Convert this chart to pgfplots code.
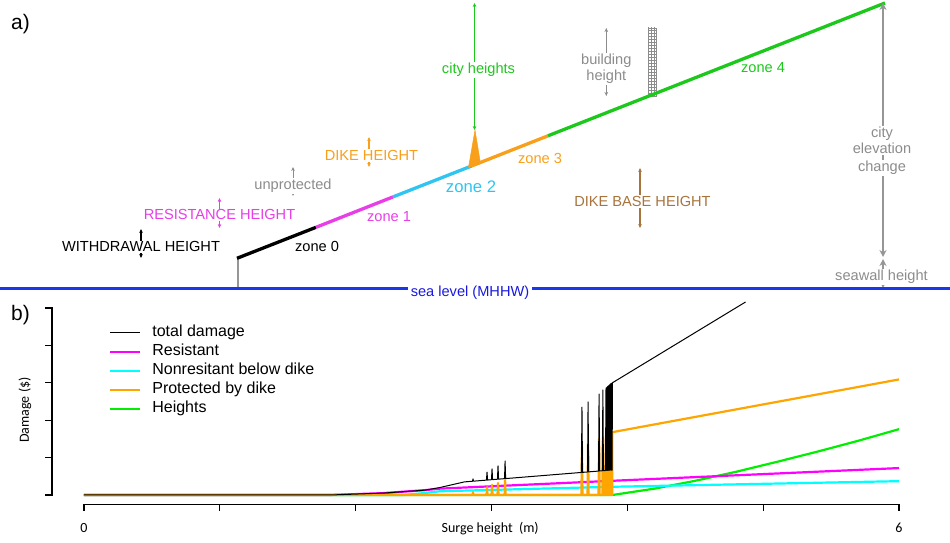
\documentclass[border=0pt]{standalone}
\usepackage{fontspec}
\setmainfont{Liberation Sans}
\newfontfamily\calibri{Carlito}
\usepackage{pgfplots}
\pgfplotsset{compat=1.18}
\usetikzlibrary{arrows.meta,patterns}

% colours of the cross-section
\definecolor{sealevel}{RGB}{25,55,235}
\definecolor{sealabel}{RGB}{25,25,225}
\definecolor{zmag}{RGB}{232,62,232}
\definecolor{zcyan}{RGB}{48,196,240}
\definecolor{zorange}{RGB}{248,160,28}
\definecolor{zgreen}{RGB}{28,200,28}
\definecolor{zgray}{RGB}{140,140,140}
\definecolor{wallgray}{RGB}{150,150,150}
\definecolor{zbrown}{RGB}{168,116,62}
% colours of the damage curves
\definecolor{dmag}{RGB}{255,0,255}
\definecolor{dcyan}{RGB}{0,255,255}
\definecolor{dorange}{RGB}{255,165,0}
\definecolor{dgreen}{RGB}{0,238,0}

\newcommand\lab{\fontsize{14.6}{16.5}\selectfont}
\newcommand\axfont{\calibri\fontsize{14}{16}\selectfont}

\begin{document}
\begin{tikzpicture}[
  lbl/.style={font=\lab, anchor=base, inner sep=0pt},
  wlbl/.style={font=\lab, anchor=base, fill=white, inner xsep=1.5pt, inner ysep=1pt},
  tip/.style={arrows={Stealth[length=4pt,width=3.6pt]-Stealth[length=4pt,width=3.6pt]}},
  bigtip/.style={arrows={Stealth[length=7pt,width=7pt]-Stealth[length=7pt,width=7pt]}},
]

%% a) cross-section of the city, in pixel units with y pointing down
\begin{axis}[
  at={(0pt,0pt)}, anchor=south west,
  scale only axis, width=950pt, height=543pt,
  xmin=0, xmax=950, ymin=0, ymax=543, y dir=reverse,
  hide axis, clip=false,
]
% building on the upper slope
\addplot[draw=zgray, line width=0.6pt, pattern=grid, pattern color=zgray]
  coordinates {(648,28)(656,28)(656,96)(648,96)(648,28)};

% seawall and the five zones of the slope
\addplot[wallgray, line width=2.8pt] coordinates {(238,289)(238,258)};
\addplot[black,   line width=3.3pt] coordinates {(237,258.3)(316,227.3)};
\addplot[zmag,    line width=3.3pt] coordinates {(316,227.3)(393,196.9)};
\addplot[zcyan,   line width=3.3pt] coordinates {(393,196.9)(472,165.8)};
\addplot[zorange, line width=3.3pt] coordinates {(472,165.8)(548,135.8)};
\addplot[zgreen,  line width=3.3pt] coordinates {(548,135.8)(885,3)};

% dike
\addplot[fill=zorange, draw=zorange, line width=0.5pt]
  coordinates {(468.5,167.5)(480.5,163.5)(475,130)(468.5,167.5)};

% height arrows
\addplot[black,   line width=1.3pt, tip] coordinates {(141,229)(141,258)};
\addplot[zmag,    line width=1.8pt, tip] coordinates {(219.5,198)(219.5,228)};
\addplot[zgray,   line width=1pt,   tip] coordinates {(293,167)(293,196)};
\addplot[zorange, line width=1.8pt, tip] coordinates {(369,137)(369,167)};
\addplot[zgreen,  line width=1pt,   tip] coordinates {(474.5,3)(474.5,130)};
\addplot[zgray,   line width=1.2pt, tip] coordinates {(606.3,28)(606.3,96)};
\addplot[zbrown,  line width=1.8pt, tip] coordinates {(640,168)(640,228)};
\addplot[wallgray, line width=2.8pt, bigtip] coordinates {(883,3)(883,257)};
\addplot[wallgray, line width=2.8pt, bigtip] coordinates {(883,259)(883,288)};

% sea level
\addplot[sealevel, line width=3pt] coordinates {(0,288.5)(950,288.5)};

% labels
\node[wlbl, text=black]   at (axis cs:141,252)     {WITHDRAWAL HEIGHT};
\node[wlbl, text=zmag]    at (axis cs:219.5,220)   {RESISTANCE HEIGHT};
\node[wlbl, text=zgray]   at (axis cs:293,190)     {unprotected};
\node[lbl,  text=black]   at (axis cs:317,252)     {zone 0};
\node[lbl,  text=zmag]    at (axis cs:389,222)     {zone 1};
\node[lbl,  text=zcyan, font=\fontsize{16.7}{19}\selectfont] at (axis cs:471,193) {zone 2};
\node[lbl,  text=zorange] at (axis cs:540,164)     {zone 3};
\node[wlbl, text=zorange] at (axis cs:371.5,160.5) {DIKE HEIGHT};
\node[wlbl, text=zgreen]  at (axis cs:478.5,74)    {city heights};
\node[wlbl, text=zgray]   at (axis cs:606.3,64.5)  {building};
\node[wlbl, text=zgray]   at (axis cs:606.3,81)    {height};
\node[lbl,  text=zgreen]  at (axis cs:763,73)      {zone 4};
\node[wlbl, text=zbrown]  at (axis cs:642.5,206.5) {DIKE BASE HEIGHT};
\node[wlbl, text=zgray]   at (axis cs:882,138)     {city};
\node[wlbl, text=zgray]   at (axis cs:882,154)     {elevation};
\node[wlbl, text=zgray]   at (axis cs:882,171.5)   {change};
\node[wlbl, text=zgray]   at (axis cs:881.5,280.5) {seawall height};
\node[wlbl, text=sealabel, inner xsep=2.5pt] at (axis cs:470,296) {sea level (MHHW)};
\node[anchor=base west, inner sep=0pt, font=\fontsize{21}{24}\selectfont] at (axis cs:11,30)  {a)};
\node[anchor=base west, inner sep=0pt, font=\fontsize{21}{24}\selectfont] at (axis cs:11,320) {b)};
\end{axis}

%% b) damage as a function of surge height
\begin{axis}[
  at={(84pt,48pt)}, anchor=south west,
  scale only axis, width=815pt, height=187pt,
  xmin=0, xmax=6, ymin=0, ymax=5, clip=false,
  axis lines=none, xtick=\empty, ytick=\empty,
  legend style={at={(axis cs:0.18,4.60)}, anchor=north west, draw=none, fill=none,
    inner sep=0pt, column sep=10pt, row sep=0pt,
    font=\fontsize{16}{18}\selectfont,
    nodes={inner sep=1.5pt, text height=12pt, text depth=4pt}},
  legend image code/.code={\draw[#1] (0pt,0pt) -- (30pt,0pt);},
  legend cell align=left,
  line join=round,
]
% detached axes: surge height 0..6 below, damage ticks 0..5 on the left
\draw[line width=1.2pt, line cap=rect] (axis cs:0,-0.254) -- (axis cs:6,-0.254);
\pgfplotsinvokeforeach{0,1,...,6}{
  \draw[line width=1.2pt] (axis cs:#1,-0.254) -- (axis cs:#1,-0.43);
}
\draw[line width=1.2pt, line cap=rect] (axis cs:-0.2356,0) -- (axis cs:-0.2356,5);
\pgfplotsinvokeforeach{0,1,...,5}{
  \draw[line width=1.2pt] (axis cs:-0.2356,#1) -- (axis cs:-0.288,#1);
}
\node[anchor=base, inner sep=0pt, font=\axfont] at (axis cs:0,-1.003) {0};
\node[anchor=base, inner sep=0pt, font=\axfont] at (axis cs:6,-1.003) {6};

\addplot[dgreen, line width=2.2pt, forget plot] coordinates {
  (0,0) (3.89,0) (4.2,0.17) (4.5,0.38) (4.8,0.62) (5.1,0.885)
  (5.4,1.16) (5.7,1.45) (6,1.76)};
\addplot[dcyan, line width=2.2pt, forget plot] coordinates {
  (0,0) (2.35,0) (2.5,0.05) (2.62,0.10) (3.89,0.22) (6,0.37)};
\addplot[dmag, line width=2.2pt, forget plot] coordinates {
  (0,0) (1.81,0) (2.2,0.05) (2.51,0.13) (2.62,0.17) (3.89,0.38) (6,0.72)};
\addplot[dorange, line width=2.2pt, forget plot] coordinates {
  (0,0) (2.860,0) (2.864,0.08) (2.868,0)
  (2.963,0) (2.967,0.21) (2.971,0)
  (3.000,0) (3.004,0.27) (3.008,0)
  (3.044,0) (3.048,0.32) (3.052,0)
  (3.096,0) (3.100,0.40) (3.104,0)
  (3.662,0) (3.666,1.28) (3.670,0)
  (3.707,0) (3.711,1.36) (3.715,0)
  (3.788,0) (3.792,1.50) (3.796,0)
  (3.816,0) (3.820,1.55) (3.824,0)
  (3.839,0) (3.843,1.60) (3.846,0)
  (3.849,0.67) (3.852,0) (3.855,0.67) (3.858,0) (3.861,0.67) (3.864,0)
  (3.867,1.62) (3.870,0) (3.873,0.67) (3.876,0) (3.879,0.67) (3.882,0)
  (3.885,0.67) (3.888,0) (3.89,0) (3.89,1.68) (6,3.09)};
\addplot[black, line width=1pt, forget plot] coordinates {
  (0,0) (1.81,0) (2.2,0.05) (2.51,0.13) (2.62,0.20) (2.80,0.35)
  (2.860,0.368) (2.864,0.43) (2.868,0.370)
  (2.963,0.398) (2.967,0.61) (2.971,0.400)
  (3.000,0.409) (3.004,0.70) (3.008,0.411)
  (3.044,0.422) (3.048,0.78) (3.052,0.424)
  (3.096,0.437) (3.100,0.91) (3.104,0.439)
  (3.662,0.603) (3.666,2.35) (3.670,0.605)
  (3.707,0.616) (3.711,2.49) (3.715,0.618)
  (3.788,0.640) (3.792,2.70) (3.796,0.642)
  (3.816,0.648) (3.820,2.81) (3.824,0.650)
  (3.839,0.655) (3.843,2.86) (3.846,0.656)
  (3.849,2.88) (3.852,0.658) (3.855,2.90) (3.858,0.659) (3.861,2.92)
  (3.864,0.660) (3.867,2.94) (3.870,0.661) (3.873,2.96) (3.876,0.662)
  (3.879,2.98) (3.882,0.663) (3.885,2.99) (3.888,0.664) (3.89,3.00)
  (4.87,5.16)};

\addlegendimage{black, line width=1pt}    \addlegendentry{total damage}
\addlegendimage{dmag, line width=2.2pt}   \addlegendentry{Resistant}
\addlegendimage{dcyan, line width=2.2pt}  \addlegendentry{Nonresitant below dike}
\addlegendimage{dorange, line width=2.2pt}\addlegendentry{Protected by dike}
\addlegendimage{dgreen, line width=2.2pt} \addlegendentry{Heights}

\node[rotate=90, font=\axfont] at (axis cs:-0.434,2.27) {Damage (\$)};
\node[anchor=base, inner sep=0pt, font=\axfont] at (axis cs:2.99,-1.003) {Surge height~~(m)};
\end{axis}

\pgfresetboundingbox
\path[use as bounding box] (0pt,0pt) rectangle (950pt,543pt);
\end{tikzpicture}
\end{document}
